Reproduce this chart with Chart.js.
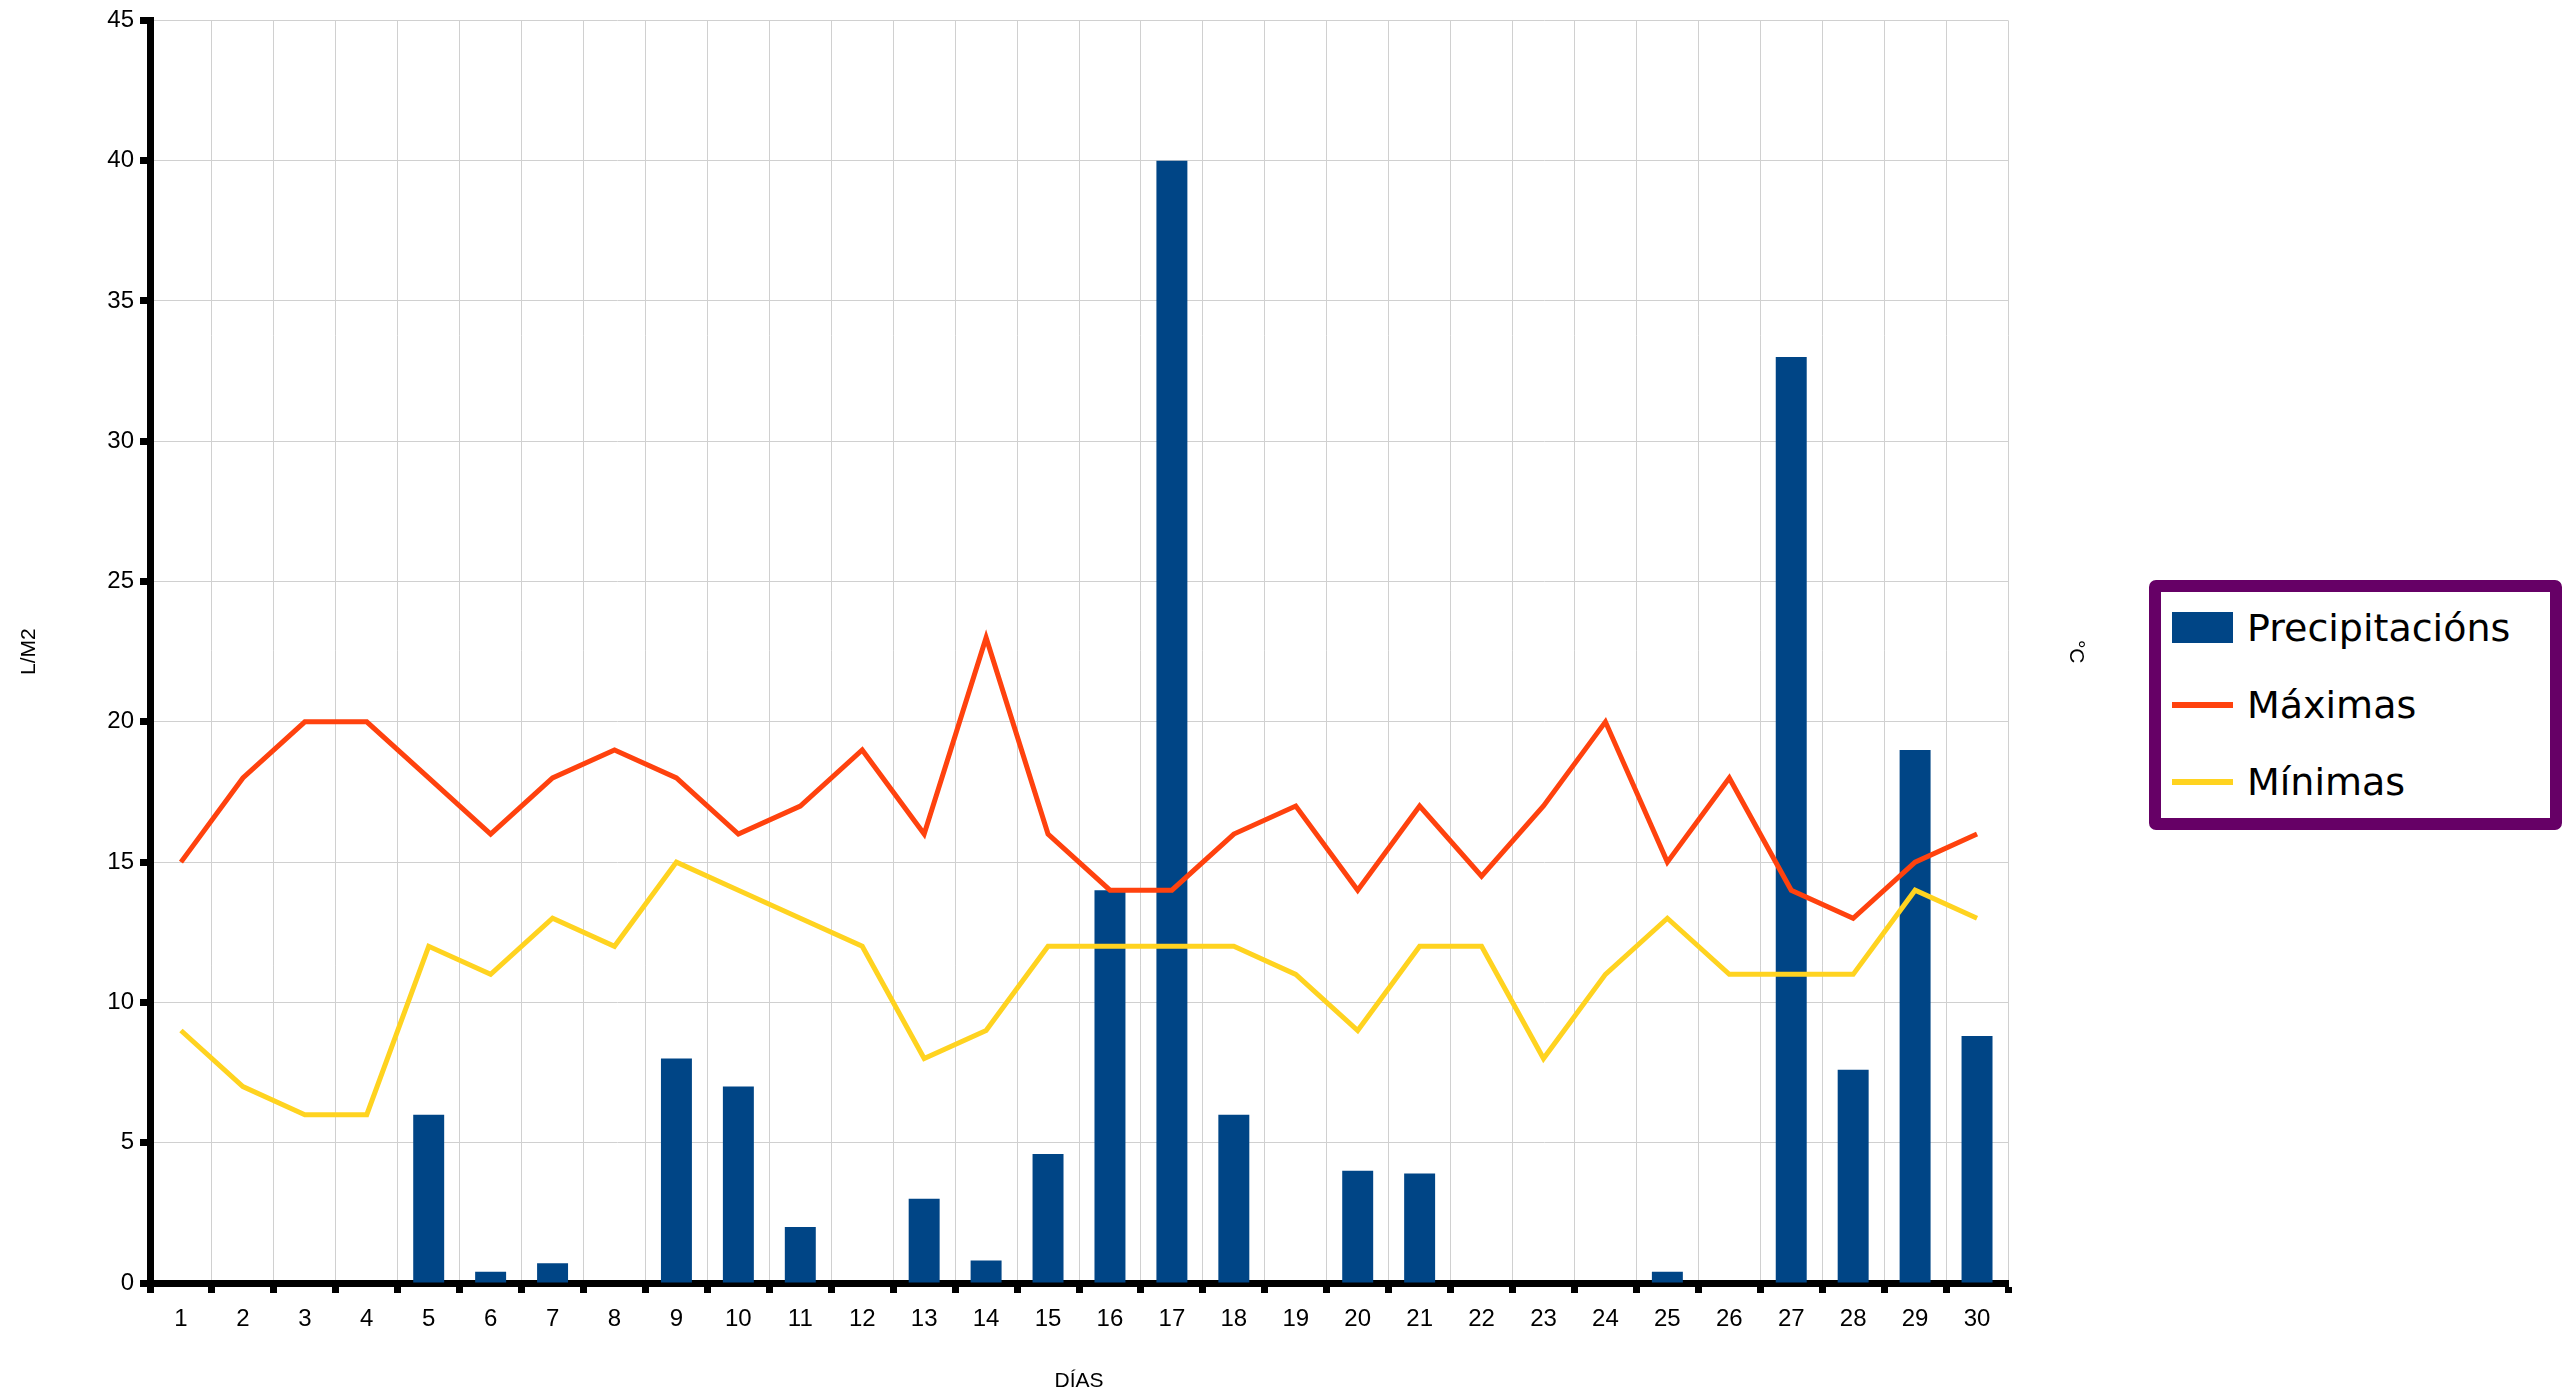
<!DOCTYPE html>
<html>
<head>
<meta charset="utf-8">
<script src="https://cdn.jsdelivr.net/npm/chart.js@4/dist/chart.umd.min.js"></script>
<style>
  html, body { margin: 0; padding: 0; background: #fff; }
  #wrap { position: relative; width: 2562px; height: 1400px; }
  #chart { position: absolute; left: 0; top: 0; }
  #legend {
    position: absolute; left: 2149px; top: 580px; width: 389px; height: 226px;
    border: 12px solid #660066; border-radius: 7px; background: #fff;
    font-family: "DejaVu Sans", sans-serif; font-size: 38px; color: #000;
  }
  .item { position: absolute; left: 0; height: 40px; display: flex; align-items: center; }
  .sw { position: absolute; left: 11px; width: 61px; }
  .lbl { position: absolute; left: 86px; white-space: nowrap; line-height: 40px; }
</style>
</head>
<body>
<div id="wrap">
  <canvas id="chart" width="2562" height="1400"></canvas>
  <div id="legend"></div>
</div>
<script>
// days of the month
const dias = ['1','2','3','4','5','6','7','8','9','10','11','12','13','14','15',
  '16','17','18','19','20','21','22','23','24','25','26','27','28','29','30'];

// rainfall L/m2 (bars)
const precipitacions = [0, 0, 0, 0, 6, 0.4, 0.7, 0, 8, 7, 2, 0, 3, 0.8, 4.6,
  14, 40, 6, 0, 4, 3.9, 0, 0, 0, 0.4, 0, 33, 7.6, 19, 8.8];

// temperatures °C
const maximas = [15, 18, 20, 20, 18, 16, 18, 19, 18, 16, 17, 19, 16, 23, 16,
  14, 14, 16, 17, 14, 17, 14.5, 17, 20, 15, 18, 14, 13, 15, 16];
const minimas = [9, 7, 6, 6, 12, 11, 13, 12, 15, 14, 13, 12, 8, 9, 12,
  12, 12, 12, 11, 9, 12, 12, 8, 11, 13, 11, 11, 11, 14, 13];

const yTicks = [0, 5, 10, 15, 20, 25, 30, 35, 40, 45];

const FONT = 'Liberation Sans';

const chart = new Chart(document.getElementById('chart'), {
  type: 'bar',
  data: {
    labels: dias,
    datasets: [
      { type: 'line', label: 'Máximas', data: maximas, borderColor: '#ff420e', backgroundColor: '#ff420e',
        borderWidth: 5, pointRadius: 0, tension: 0, order: 1, borderCapStyle: 'butt' },
      { type: 'line', label: 'Mínimas', data: minimas, borderColor: '#ffd320', backgroundColor: '#ffd320',
        borderWidth: 5, pointRadius: 0, tension: 0, order: 2, borderCapStyle: 'butt' },
      { type: 'bar', label: 'Precipitacións', data: precipitacions, backgroundColor: '#004586',
        barPercentage: 0.5, categoryPercentage: 1, order: 3 }
    ]
  },
  options: {
    responsive: false,
    animation: false,
    events: [],
    layout: { padding: { left: 0, top: 20, right: 470, bottom: 0 } },
    plugins: { legend: { display: false }, tooltip: { enabled: false } },
    scales: {
      x: {
        offset: true,
        grid: { offset: true, color: '#d0d0d0', lineWidth: 1, tickColor: '#000', tickWidth: 7, tickLength: 10 },
        border: { color: '#000', width: 7 },
        ticks: { color: '#000', font: { family: FONT, size: 24 }, padding: 12, maxRotation: 0, autoSkip: false },
        title: { display: true, text: 'DÍAS', color: '#000', font: { family: FONT, size: 21 }, padding: { top: 0, bottom: 6 } },
        afterFit: (s) => { s.height = 117; }
      },
      y: {
        min: 0, max: 45,
        afterBuildTicks: (s) => { s.ticks = yTicks.map(v => ({ value: v })); },
        grid: { color: '#d0d0d0', lineWidth: 1, tickColor: '#000', tickWidth: 7, tickLength: 10 },
        border: { color: '#000', width: 7 },
        ticks: { color: '#000', font: { family: FONT, size: 24 }, padding: 6 },
        title: { display: true, text: 'L/M2', color: '#000', font: { family: FONT, size: 21 }, padding: { top: 17, bottom: 0 } },
        afterFit: (s) => { s.width = 150; }
      },
      y2: {
        position: 'right', min: 0, max: 45,
        grid: { drawOnChartArea: false, drawTicks: false },
        border: { display: false },
        ticks: { display: false },
        title: { display: true, text: '°C', color: '#000', font: { family: FONT, size: 21 }, padding: { top: 4, bottom: 0 } },
        afterFit: (s) => { s.width = 84; }
      }
    }
  }
});

// legend box built from the chart datasets
const legend = document.getElementById('legend');
const order = [2, 0, 1];
order.forEach((idx, i) => {
  const ds = chart.data.datasets[idx];
  const top = 16 + i * 77;
  const sw = document.createElement('div');
  sw.className = 'sw';
  if (ds.type === 'bar') {
    sw.style.top = (top + 4) + 'px';
    sw.style.height = '31px';
  } else {
    sw.style.top = (top + 17) + 'px';
    sw.style.height = '6px';
  }
  sw.style.background = ds.backgroundColor;
  const lbl = document.createElement('div');
  lbl.className = 'lbl';
  lbl.style.top = top + 'px';
  lbl.textContent = ds.label;
  legend.appendChild(sw);
  legend.appendChild(lbl);
});
</script>
</body>
</html>
